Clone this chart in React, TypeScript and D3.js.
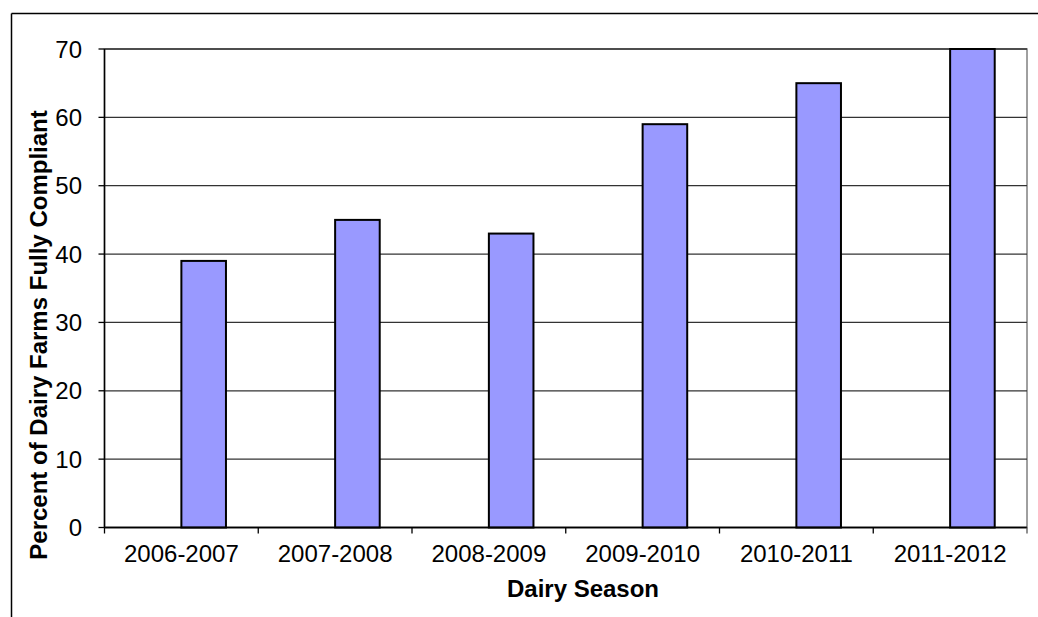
import React from "react";
import * as d3 from "d3";

const categories = ["2006-2007", "2007-2008", "2008-2009", "2009-2010", "2010-2011", "2011-2012"];
const values = [39, 45, 43, 59, 65, 70];
const yTicks = [0, 10, 20, 30, 40, 50, 60, 70];
const yLabel = "Percent of Dairy Farms Fully Compliant";
const xLabel = "Dairy Season";

export default function App() {
  const W = 1038, H = 617;
  const left = 104.5, right = 1027, top = 49, bottom = 527.5;
  const x = d3.scaleBand<string>().domain(categories).range([left, right]);
  const y = d3.scaleLinear().domain([0, 70]).range([bottom, top]);
  const bw = x.bandwidth() * 0.29;
  const font = "Arial, 'Liberation Sans', sans-serif";
  return (
    <svg width={W} height={H} style={{ position: "absolute", left: 0, top: 0 }} fontFamily={font}>
      <rect x={0} y={0} width={W} height={H} fill="#fff" />
      <line x1={11.5} y1={13.5} x2={W} y2={13.5} stroke="#000" strokeWidth={1.5} />
      <line x1={11.5} y1={13.5} x2={11.5} y2={H} stroke="#000" strokeWidth={1.5} />
      <rect x={left} y={top} width={right - left} height={bottom - top} fill="none" stroke="#808080" strokeWidth={1.5} />
      {yTicks.map((t) => (
        <g key={t}>
          <line x1={left} x2={right} y1={y(t)} y2={y(t)} stroke="#333" strokeWidth={1.3} />
          <line x1={left - 6} x2={left} y1={y(t)} y2={y(t)} stroke="#000" strokeWidth={1.3} />
          <text x={82} y={y(t) + 8.5} textAnchor="end" fontSize={24} fill="#000">{t}</text>
        </g>
      ))}
      {categories.map((c, i) => (
        <rect key={c} x={x(c)! + x.bandwidth() / 2} y={y(values[i])} width={bw}
          height={y(0) - y(values[i])} fill="#9999FF" stroke="#000" strokeWidth={2} />
      ))}
      <line x1={left} x2={left} y1={top} y2={bottom} stroke="#000" strokeWidth={1.5} />
      <line x1={left} x2={right} y1={bottom} y2={bottom} stroke="#000" strokeWidth={1.5} />
      {categories.map((c, i) => (
        <g key={c}>
          <line x1={x(c)!} x2={x(c)!} y1={bottom} y2={bottom + 6} stroke="#000" strokeWidth={1.3} />
          <text x={x(c)! + x.bandwidth() / 2} y={562} textAnchor="middle" fontSize={24} fill="#000">{c}</text>
        </g>
      ))}
      <line x1={right} x2={right} y1={bottom} y2={bottom + 6} stroke="#555" strokeWidth={1.3} />
      <text x={583} y={597} textAnchor="middle" fontSize={24} fontWeight="bold" fill="#000">{xLabel}</text>
      <text transform={`translate(47,335) rotate(-90)`} textAnchor="middle" fontSize={24} fontWeight="bold" fill="#000">{yLabel}</text>
    </svg>
  );
}
